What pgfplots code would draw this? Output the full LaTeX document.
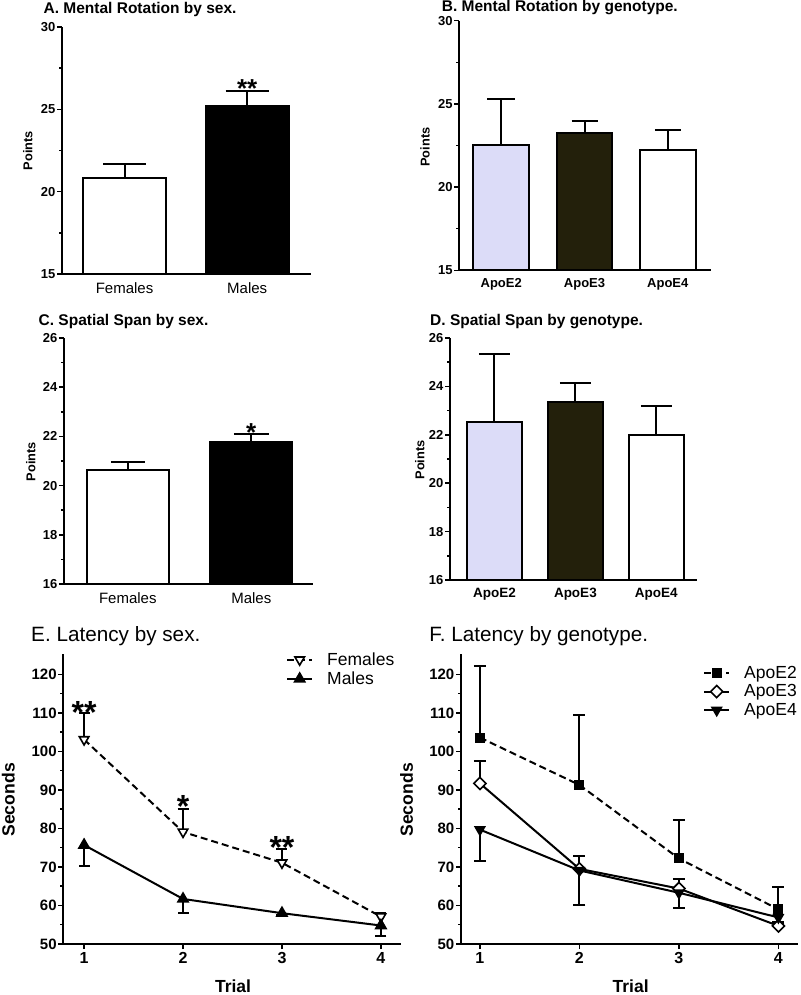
\documentclass[border=0pt]{standalone}
\usepackage{fontspec}
\setmainfont{Liberation Sans}
\usepackage{pgfplots}
\pgfplotsset{compat=1.18}
\definecolor{lav}{HTML}{DCDCF8}
\definecolor{darkolive}{HTML}{23200B}
\newcommand{\fs}[1]{\fontsize{#1}{#1}\selectfont}
\pgfplotsset{
  base/.style={
    scale only axis,
    axis lines=left,
    axis line style={-, line width=2pt},
    every tick/.style={black, line width=1.5pt},
    tick align=outside,
    major tick length=5pt, minor tick length=3pt,
    /pgf/number format/assume math mode=true,
    yticklabel style={font=\fs{13}\bfseries, inner sep=1.5pt},
    ylabel style={font=\fs{12.8}\bfseries, anchor=center},
    every axis title shift=0pt,
    title style={font=\fs{15.5}\bfseries, anchor=base west},
    clip=true,
  },
  barax/.style={base, ybar, xtick style={draw=none}, minor y tick num=1},
  linax/.style={base, ymin=50, ymax=125.3, xmin=0.79, xmax=4.2,
    xtick={1,2,3,4}, ytick={50,60,...,120}, minor y tick num=1,
    yticklabel style={font=\fs{15}\bfseries},
    xticklabel style={font=\fs{16}\bfseries},
    ylabel style={font=\fs{17.6}\bfseries},
    xlabel style={font=\fs{17.5}\bfseries, anchor=center},
    title style={font=\fs{20.7}\mdseries},
    legend style={draw=none, fill=none, font=\fs{17.5}, anchor=north west,
      row sep=0pt, inner sep=0pt, nodes={inner ysep=2.5pt, inner xsep=7pt},
      /tikz/every odd column/.append style={column sep=7pt}},
    legend cell align=left,
    legend image code/.code={\draw[mark repeat=2,mark phase=2,##1] plot coordinates {(0pt,0pt) (12.5pt,0pt) (25pt,0pt)};},
    clip=false,
  },
  bars/.style={draw=black, line width=2pt, bar shift=0pt,
    error bars/y dir=plus, error bars/y explicit,
    error bars/error bar style={line width=2pt, black},
    error bars/error mark options={rotate=90, line width=2pt, mark size=#1, black}},
}
\begin{document}
\begin{tikzpicture}
\useasboundingbox (0,0) rectangle (800pt,995pt);
% A
\begin{axis}[barax, at={(62pt,721pt)}, anchor=south west, width=249pt, height=247pt,
  xmin=-0.51, xmax=1.52, ymin=15, ymax=30, ytick={15,20,25,30},
  xtick={0,1}, xticklabels={Females,Males}, xticklabel style={font=\fs{15}},
  ylabel={Points}, ylabel style={at={(axis description cs:-0.137,0.5)}},
  title={A. Mental Rotation by sex.}, title style={at={(axis description cs:-0.088,1.053)}},
  bar width=0.675]
\addplot[fill=white, bars=21.5pt] coordinates {(0,20.8) +- (0,0.86)};
\addplot[fill=black, bars=21.5pt] coordinates {(1,25.2) +- (0,0.9)};
\node[font=\fs{26}\bfseries, anchor=base] at (axis cs:1,25.7) {**};
\end{axis}
% B
\begin{axis}[barax, at={(459.3pt,724.7pt)}, anchor=south west, width=251.4pt, height=249.6pt,
  xmin=-0.503, xmax=2.515, ymin=15, ymax=30, ytick={15,20,25,30},
  xtick={0,1,2}, xticklabels={ApoE2,ApoE3,ApoE4}, xticklabel style={font=\fs{13}\bfseries},
  ylabel={Points}, ylabel style={at={(axis description cs:-0.136,0.494)}},
  title={B. Mental Rotation by genotype.}, title style={at={(axis description cs:-0.0835,1.036)}},
  bar width=0.67]
\addplot[fill=lav, bars=14pt] coordinates {(0,22.5) +- (0,2.8)};
\addplot[fill=darkolive, bars=13pt] coordinates {(1,23.25) +- (0,0.75)};
\addplot[fill=white, bars=13pt] coordinates {(2,22.23) +- (0,1.22)};
\end{axis}
% C
\begin{axis}[barax, at={(64pt,411pt)}, anchor=south west, width=249pt, height=246pt,
  xmin=-0.517, xmax=1.5, ymin=16, ymax=26, ytick={16,18,...,26},
  xtick={0,1}, xticklabels={Females,Males}, xticklabel style={font=\fs{15}},
  ylabel={Points}, ylabel style={at={(axis description cs:-0.133,0.497)}},
  title={C. Spatial Span by sex.}, title style={at={(axis description cs:-0.116,1.05)}},
  bar width=0.667]
\addplot[fill=white, bars=16.7pt] coordinates {(0,20.63) +- (0,0.33)};
\addplot[fill=black, bars=17.5pt] coordinates {(1,21.78) +- (0,0.32)};
\node[font=\fs{26}\bfseries, anchor=base] at (axis cs:1,21.8) {*};
\end{axis}
% D
\begin{axis}[barax, at={(450pt,415pt)}, anchor=south west, width=246.7pt, height=242pt,
  xmin=-0.55, xmax=2.5, ymin=16, ymax=26, ytick={16,18,...,26},
  xtick={0,1,2}, xticklabels={ApoE2,ApoE3,ApoE4}, xticklabel style={font=\fs{13.5}\bfseries},
  ylabel={Points}, ylabel style={at={(axis description cs:-0.122,0.496)}},
  title={D. Spatial Span by genotype.}, title style={at={(axis description cs:-0.0945,1.051)}},
  bar width=0.674]
\addplot[fill=lav, bars=15.5pt] coordinates {(0,22.54) +- (0,2.81)};
\addplot[fill=darkolive, bars=15.5pt] coordinates {(1,23.36) +- (0,0.77)};
\addplot[fill=white, bars=15.5pt] coordinates {(2,21.98) +- (0,1.21)};
\end{axis}
% E
\begin{axis}[linax, at={(63.3pt,51pt)}, anchor=south west, width=337.4pt, height=290pt,
  ylabel={Seconds}, ylabel style={at={(axis description cs:-0.163,0.497)}},
  xlabel={Trial}, xlabel style={at={(axis description cs:0.503,-0.145)}},
  title={E. Latency by sex.}, title style={at={(axis description cs:-0.1055,1.042)}},
  legend style={at={(axis description cs:0.66,1.014)}}]
\addplot[black, line width=2pt, dash pattern=on 7pt off 4pt,
  mark=triangle*, mark options={solid, rotate=180, fill=white, mark size=5.5pt, line width=1.6pt},
  error bars/.cd, y dir=plus, y explicit, error bar style={solid, line width=2pt},
  error mark options={solid, rotate=90, mark size=5.5pt, line width=2pt}]
  coordinates {(1,103.1) +- (0,6.8) (2,79.1) +- (0,5.9) (3,71.1) +- (0,3.5) (4,57.1) +- (0,1.0)};
\addlegendentry{Females}
\addplot[black, line width=2pt, solid,
  mark=triangle*, mark options={fill=black, mark size=5.5pt},
  error bars/.cd, y dir=minus, y explicit, error bar style={line width=2pt},
  error mark options={rotate=90, mark size=5.5pt, line width=2pt}]
  coordinates {(1,75.7) +- (0,5.5) (2,61.7) +- (0,3.6) (3,58.0) +- (0,0.4) (4,54.8) +- (0,2.6)};
\addlegendentry{Males}
\node[font=\fs{32}\bfseries, anchor=base] at (axis cs:1,107.3) {**};
\node[font=\fs{32}\bfseries, anchor=base] at (axis cs:2,82.9) {*};
\node[font=\fs{32}\bfseries, anchor=base] at (axis cs:3,72.3) {**};
\end{axis}
% F
\begin{axis}[linax, at={(461pt,51pt)}, anchor=south west, width=337.3pt, height=290pt,
  xmin=0.81,
  ylabel={Seconds}, ylabel style={at={(axis description cs:-0.161,0.497)}},
  xlabel={Trial}, xlabel style={at={(axis description cs:0.503,-0.145)}},
  title={F. Latency by genotype.}, title style={at={(axis description cs:-0.104,1.042)}},
  legend style={at={(axis description cs:0.7175,0.968)}}]
\addplot[black, line width=2pt, dash pattern=on 7pt off 4pt,
  mark=square*, mark options={solid, fill=black, mark size=4pt},
  error bars/.cd, y dir=plus, y explicit, error bar style={solid, line width=2pt},
  error mark options={solid, rotate=90, mark size=6pt, line width=2pt}]
  coordinates {(1,103.6) +- (0,18.5) (2,91.3) +- (0,18.2) (3,72.2) +- (0,9.9) (4,59.0) +- (0,5.8)};
\addlegendentry{ApoE2}
\addplot[black, line width=2pt, solid,
  mark=square*, mark options={rotate=45, fill=white, mark size=4.3pt, line width=1.6pt},
  error bars/.cd, y dir=plus, y explicit, error bar style={line width=2pt},
  error mark options={rotate=90, mark size=6pt, line width=2pt}]
  coordinates {(1,91.7) +- (0,5.9) (2,69.5) +- (0,3.3) (3,64.4) +- (0,2.5) (4,54.7) +- (0,1.0)};
\addlegendentry{ApoE3}
\addplot[black, line width=2pt, solid,
  mark=triangle*, mark options={rotate=180, fill=black, mark size=5pt},
  error bars/.cd, y dir=minus, y explicit, error bar style={line width=2pt},
  error mark options={rotate=90, mark size=6pt, line width=2pt}]
  coordinates {(1,79.7) +- (0,8.2) (2,69.1) +- (0,9.0) (3,63.3) +- (0,3.9) (4,56.9) +- (0,1.5)};
\addlegendentry{ApoE4}
\end{axis}
\end{tikzpicture}
\end{document}
